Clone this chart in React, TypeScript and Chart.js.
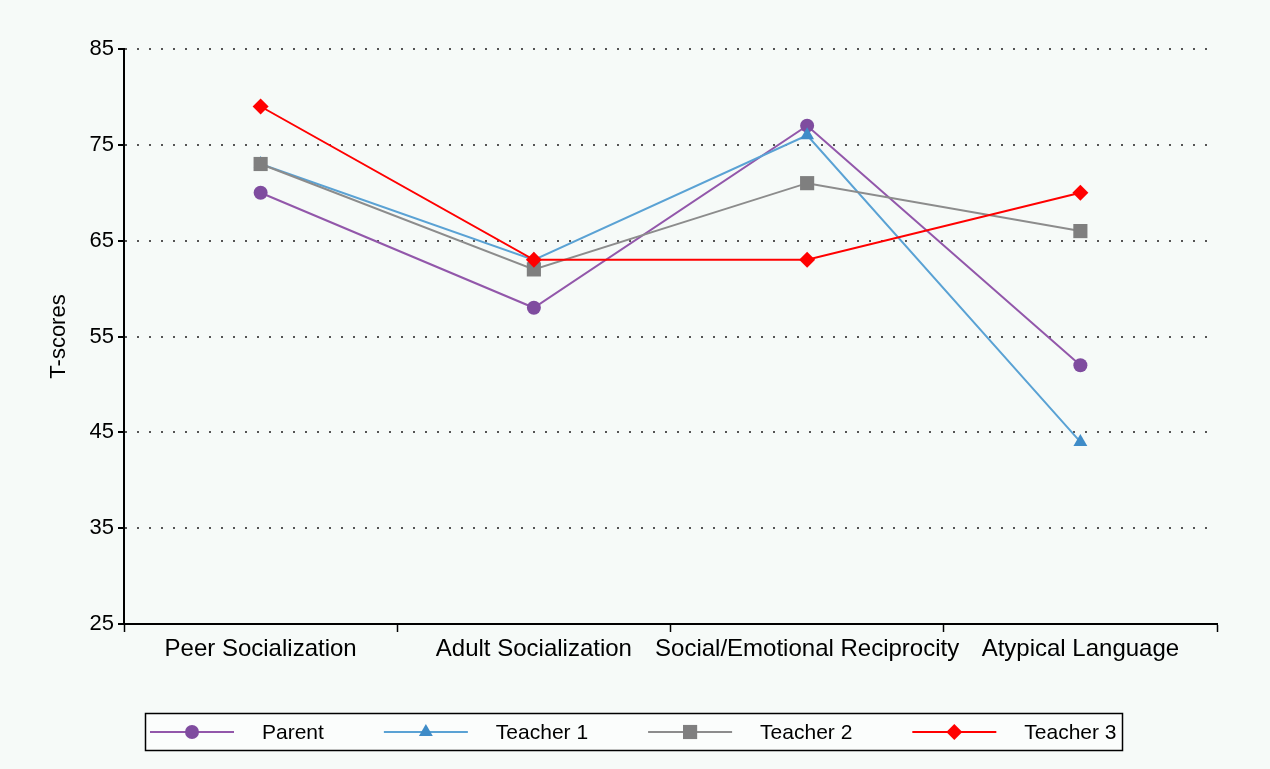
import React, { useEffect, useRef } from "react";
import { Chart, registerables } from "chart.js";

Chart.register(...registerables);

const categories = [
  "Peer Socialization",
  "Adult Socialization",
  "Social/Emotional Reciprocity",
  "Atypical Language",
];
const seriesNames = ["Parent", "Teacher 1", "Teacher 2", "Teacher 3"];
const parentScores = [70, 58, 77, 52];
const teacher1Scores = [73, 63, 76, 44];
const teacher2Scores = [73, 62, 71, 66];
const teacher3Scores = [79, 63, 63, 70];
const yTicks = [25, 35, 45, 55, 65, 75, 85];
const yTitle = "T-scores";

const BG = "#f6faf8";
const FONT = "'Liberation Sans', Arial, sans-serif";

type Shape = "circle" | "triangle" | "rect" | "rectRot";

const seriesStyle: { line: string; marker: string; shape: Shape; radius: number }[] = [
  { line: "#9257aa", marker: "#7f4c9f", shape: "circle", radius: 7 },
  { line: "#5aa2d4", marker: "#3f8cc8", shape: "triangle", radius: 8 },
  { line: "#8c8c8c", marker: "#7f7f7f", shape: "rect", radius: 10 },
  { line: "#ff0000", marker: "#ff0000", shape: "rectRot", radius: 8 },
];

function drawMarker(ctx: CanvasRenderingContext2D, shape: Shape, x: number, y: number, r: number, color: string) {
  ctx.save();
  ctx.fillStyle = color;
  ctx.beginPath();
  if (shape === "circle") {
    ctx.arc(x, y, r, 0, Math.PI * 2);
  } else if (shape === "triangle") {
    ctx.moveTo(x, y - r);
    ctx.lineTo(x + r * 0.866, y + r * 0.5);
    ctx.lineTo(x - r * 0.866, y + r * 0.5);
    ctx.closePath();
  } else if (shape === "rect") {
    const s = Math.SQRT1_2 * r;
    ctx.rect(x - s, y - s, 2 * s, 2 * s);
  } else {
    ctx.moveTo(x - r, y);
    ctx.lineTo(x, y - r);
    ctx.lineTo(x + r, y);
    ctx.lineTo(x, y + r);
    ctx.closePath();
  }
  ctx.fill();
  ctx.restore();
}

const boxLegend = {
  id: "boxLegend",
  afterDraw(chart: any) {
    const ctx: CanvasRenderingContext2D = chart.ctx;
    ctx.save();
    ctx.font = `21px ${FONT}`;
    const lineLen = 84;
    const gapText = 28;
    const gapItem = 60;
    const labels: string[] = chart.data.datasets.map((d: any) => d.label);
    const widths = labels.map((l) => ctx.measureText(l).width);
    let total = 0;
    widths.forEach((w, i) => {
      total += lineLen + gapText + w + (i < widths.length - 1 ? gapItem : 0);
    });
    const padL = 5;
    const padR = 5;
    const boxW = Math.round(total + padL + padR);
    const boxX = 145;
    const boxY = 713;
    const boxH = 37;
    const cy = boxY + boxH / 2 + 0.5;
    ctx.fillStyle = "#fbfdfc";
    ctx.fillRect(boxX, boxY, boxW, boxH);
    ctx.strokeStyle = "#000";
    ctx.lineWidth = 1.5;
    ctx.strokeRect(boxX + 0.5, boxY + 0.5, boxW, boxH);
    let x = boxX + padL;
    labels.forEach((l, i) => {
      const st = seriesStyle[i];
      ctx.strokeStyle = st.line;
      ctx.lineWidth = 2;
      ctx.beginPath();
      ctx.moveTo(x, cy);
      ctx.lineTo(x + lineLen, cy);
      ctx.stroke();
      drawMarker(ctx, st.shape, x + lineLen / 2, cy, st.radius, st.marker);
      ctx.fillStyle = "#000";
      ctx.textBaseline = "middle";
      ctx.textAlign = "left";
      ctx.fillText(l, x + lineLen + gapText, cy + 1);
      x += lineLen + gapText + widths[i] + gapItem;
    });
    ctx.restore();
  },
};

export default function App() {
  const canvasRef = useRef<HTMLCanvasElement | null>(null);

  useEffect(() => {
    document.body.style.margin = "0";
    document.body.style.background = BG;
    const canvas = canvasRef.current;
    if (!canvas) return;
    const seriesData = [parentScores, teacher1Scores, teacher2Scores, teacher3Scores];
    const chart = new Chart(canvas, {
      type: "line",
      data: {
        labels: categories,
        datasets: seriesData.map((data, i) => ({
          label: seriesNames[i],
          data,
          borderColor: seriesStyle[i].line,
          backgroundColor: seriesStyle[i].marker,
          borderWidth: 2,
          pointStyle: seriesStyle[i].shape,
          pointRadius: seriesStyle[i].radius,
          pointHoverRadius: seriesStyle[i].radius,
          pointBackgroundColor: seriesStyle[i].marker,
          pointBorderColor: seriesStyle[i].marker,
          pointBorderWidth: 0,
          tension: 0,
          fill: false,
          order: 4 - i,
        })),
      },
      options: {
        responsive: false,
        animation: false,
        devicePixelRatio: 1,
        layout: { padding: { top: 49, right: 53, bottom: 0, left: 0 } },
        plugins: {
          legend: { display: false },
          tooltip: { enabled: false },
          title: { display: false },
        },
        scales: {
          x: {
            type: "category",
            offset: true,
            grid: {
              display: true,
              offset: true,
              drawOnChartArea: false,
              drawTicks: true,
              tickLength: 8,
              tickColor: "#000",
              tickWidth: 1.5,
              color: "#000",
            },
            border: { display: true, color: "#000", width: 2 },
            ticks: {
              color: "#000",
              font: { family: FONT, size: 24 },
              padding: 3,
              maxRotation: 0,
              minRotation: 0,
              autoSkip: false,
            },
            afterFit: (s: any) => {
              s.height = 145;
            },
          },
          y: {
            min: 25,
            max: 85,
            afterBuildTicks: (s: any) => {
              s.ticks = yTicks.map((v) => ({ value: v }));
            },
            grid: {
              display: true,
              color: "#555",
              lineWidth: 2,
              drawTicks: true,
              tickLength: 6,
              tickColor: "#000",
              tickWidth: 2,
              tickBorderDash: [],
            },
            border: { display: true, color: "#000", width: 2, dash: [2, 10] },
            ticks: {
              color: "#000",
              font: { family: FONT, size: 22 },
              padding: 4,
            },
            title: {
              display: true,
              text: yTitle,
              color: "#000",
              font: { family: FONT, size: 22 },
              padding: { top: 46, bottom: 0 },
            },
            afterFit: (s: any) => {
              s.width = 124;
            },
          },
        },
      },
      plugins: [boxLegend],
    } as any);
    return () => chart.destroy();
  }, []);

  return (
    <div style={{ position: "absolute", left: 0, top: 0, width: 1270, height: 769, background: BG }}>
      <canvas ref={canvasRef} width={1270} height={769} style={{ display: "block", width: 1270, height: 769 }} />
    </div>
  );
}
